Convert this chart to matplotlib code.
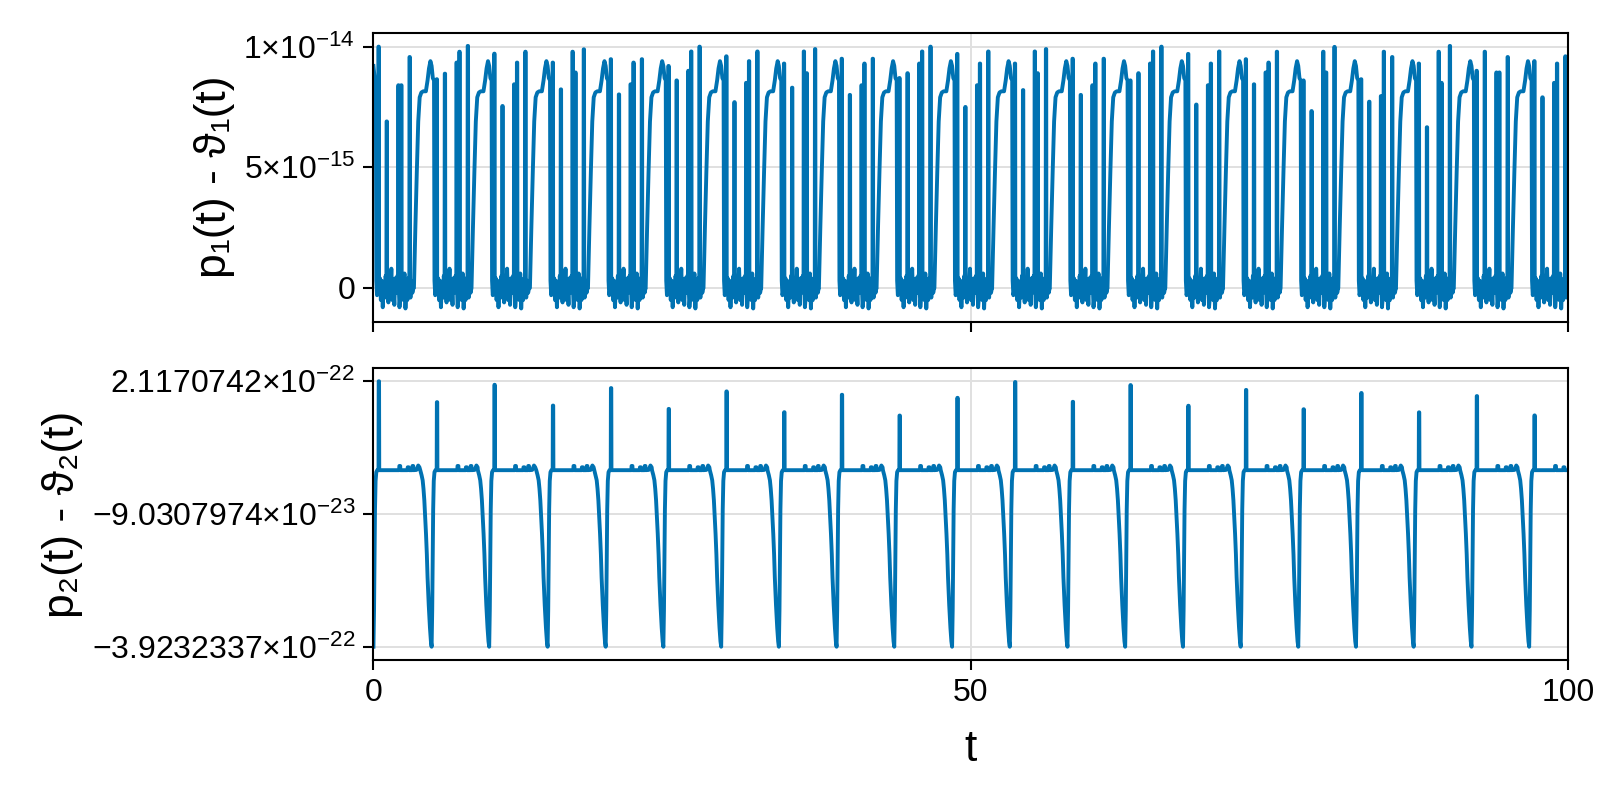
import matplotlib
matplotlib.use("Agg")
import matplotlib.pyplot as plt

# times of the dips in p2 - theta2 (start of each cycle)
starts = [0.0, 4.87, 9.69, 14.58, 19.44, 24.27, 29.11, 33.94, 38.77, 43.60,
          48.44, 53.27, 58.10, 62.93, 67.77, 72.60, 77.42, 82.25, 87.08, 91.92,
          96.75]

# ---- p1 - theta1, one cycle (units 1e-15) ----
# part after the dip (tau from cycle start)
top_after_tau = [0.00, 0.10, 0.20, 0.24, 0.30, 0.55, 0.62, 0.70, 0.78, 0.86,
                 0.95, 1.02, 1.25, 1.32, 1.40, 1.50, 1.58, 1.66, 1.75, 1.82,
                 1.90, 2.00, 2.18, 2.45, 2.52, 2.60, 2.68, 2.76, 2.84, 2.92,
                 3.10, 3.18, 3.26, 3.34]
top_after_val = [9.2, 8.7, 8.6, 0.3, -0.3, 0.4, -0.5, 0.3, -0.8, 0.2,
                 -0.4, 0.5, -0.6, 0.3, -0.3, 0.8, -0.5, 0.2, -0.7, 0.4,
                 -0.2, 0.5, -0.8, 0.3, -0.5, 0.6, -0.85, 0.1, -0.5, 0.4,
                 -0.4, 0.3, -0.2, 0.0]
# part before the next dip (tau relative to next cycle start)
top_before_tau = [-1.48, -1.36, -1.24, -1.12, -1.00, -0.86, -0.70, -0.48, -0.34, -0.22, -0.10]
top_before_val = [0.0, 2.5, 4.8, 6.9, 7.9, 8.1, 8.15, 8.15, 8.6, 9.1, 9.4]
# thin spikes in the flat part of each cycle
top_spike_tau = [0.42, 1.10, 2.08, 2.32, 3.02]
top_spikes = [
    [10.0, 6.9, 8.4, 8.4, 9.57],
    [8.65, 8.88, 9.34, 9.79, 10.03],
    [9.71, 7.54, 8.44, 9.34, 9.79],
    [9.34, 8.23, 9.79, 8.93, 9.89],
    [9.48, 8.02, 8.44, 9.34, 9.48],
    [9.2, 8.6, 9.0, 9.8, 10.0],
    [9.6, 7.7, 8.5, 9.4, 9.8],
    [9.3, 8.3, 9.8, 8.9, 9.9],
    [9.5, 8.0, 8.4, 9.3, 9.5],
    [8.7, 8.9, 9.3, 9.8, 10.0],
    [9.7, 7.5, 8.4, 9.3, 9.8],
    [9.3, 8.2, 9.8, 8.9, 9.9],
    [9.5, 8.0, 8.4, 9.3, 9.5],
    [8.6, 8.9, 9.3, 9.8, 10.0],
    [9.7, 7.6, 8.4, 9.3, 9.8],
    [9.48, 8.44, 8.93, 9.34, 9.79],
    [8.6, 7.33, 9.79, 8.93, 9.99],
    [8.65, 7.72, 7.95, 9.79, 9.57],
    [9.3, 6.66, 9.79, 8.5, 10.03],
    [9.0, 9.79, 8.93, 8.93, 9.57],
    [9.4, 7.9, 8.5, 9.3, 9.6],
]

# ---- p2 - theta2, one cycle (units 1e-22) ----
bot_after_tau = [0.00, 0.05, 0.09, 0.13, 0.18, 0.24, 0.32, 0.60, 2.15, 2.17,
                 2.24, 2.26, 2.85, 2.87, 2.95, 2.97, 3.25, 3.27, 3.33, 3.35,
                 3.60, 3.75, 3.85]
bot_after_val = [-3.9232337, -3.1, -2.0, -0.8, -0.15, 0.05, 0.094, 0.094, 0.094, 0.19,
                 0.19, 0.094, 0.094, 0.16, 0.16, 0.094, 0.094, 0.19, 0.19, 0.094,
                 0.10, 0.20, 0.16]
bot_before_tau = [-0.95, -0.84, -0.75, -0.68, -0.61, -0.54, -0.47, -0.40, -0.34, -0.24, -0.14, -0.06]
bot_before_val = [0.094, -0.02, -0.135, -0.33, -0.592, -0.95, -1.354, -1.82, -2.345, -2.98, -3.488, -3.8]
bot_spike_tau = [0.44]
bot_spikes = [[2.1170742], [1.642], [2.037], [1.564], [1.962], [1.488], [1.886],
              [1.413], [1.81], [1.337], [1.74], [2.10], [1.65], [2.03], [1.56],
              [1.92], [1.48], [1.85], [1.41], [1.78], [1.34]]

top_ticks = [0, 5e-15, 1e-14]
top_ticklabels = ['0', r'$5{\times}10^{-15}$', r'$1{\times}10^{-14}$']
bot_ticks = [-3.9232337e-22, -9.0307974e-23, 2.1170742e-22]
bot_ticklabels = [r'$-3.9232337{\times}10^{-22}$', r'$-9.0307974{\times}10^{-23}$',
                  r'$2.1170742{\times}10^{-22}$']
x_ticks = [0, 50, 100]


def build(after_tau, after_val, before_tau, before_val, sp_tau, sp_h, base, scale):
    pts = []
    for k, s in enumerate(starts):
        pts += [(s + a, b) for a, b in zip(after_tau, after_val)]
        for st, h in zip(sp_tau, sp_h[k]):
            pts += [(s + st - 0.015, base), (s + st, h), (s + st + 0.03, h), (s + st + 0.045, base)]
        if k + 1 < len(starts):
            nxt = starts[k + 1]
            pts += [(nxt + a, b) for a, b in zip(before_tau, before_val)]
    pts = sorted(p for p in pts if p[0] <= 100)
    return [p[0] for p in pts], [p[1] * scale for p in pts]


t1, y1 = build(top_after_tau, top_after_val, top_before_tau, top_before_val,
               top_spike_tau, top_spikes, 0.0, 1e-15)
t2, y2 = build(bot_after_tau, bot_after_val, bot_before_tau, bot_before_val,
               bot_spike_tau, bot_spikes, 0.094, 1e-22)

plt.rcParams['font.family'] = ['Liberation Sans', 'DejaVu Sans']
plt.rcParams['mathtext.fontset'] = 'custom'
plt.rcParams['mathtext.rm'] = 'Liberation Sans'
plt.rcParams['mathtext.it'] = 'Liberation Sans:italic'

color = '#0072B2'
fig = plt.figure(figsize=(16, 8), dpi=100)
ax1 = fig.add_axes([0.2334, 0.598, 0.7466, 0.361])
ax2 = fig.add_axes([0.2334, 0.175, 0.7466, 0.365])

for ax in (ax1, ax2):
    ax.set_xlim(0, 100)
    ax.set_xticks(x_ticks)
    ax.grid(True, color='#e0e0e0', lw=1.4)
    ax.set_axisbelow(True)
    for sp in ax.spines.values():
        sp.set_linewidth(1.5)
    ax.tick_params(direction='out', length=7.2, width=1.5, labelsize=23, pad=6)

ax1.plot(t1, y1, color=color, lw=2.8)
ax1.margins(x=0, y=0.05)
ax1.set_xlim(0, 100)
ax1.set_yticks(top_ticks)
ax1.set_yticklabels(top_ticklabels)
ax1.tick_params(axis='x', labelbottom=False)
ax1.set_ylabel('p₁(t) - ϑ₁(t)', fontsize=32)
ax1.yaxis.set_label_coords(-0.1327, 0.5)
ax1.yaxis.label.set_va('center')

ax2.plot(t2, y2, color=color, lw=2.8)
ax2.margins(x=0, y=0.05)
ax2.set_xlim(0, 100)
ax2.set_yticks(bot_ticks)
ax2.set_yticklabels(bot_ticklabels)
ax2.set_ylabel('p₂(t) - ϑ₂(t)', fontsize=32)
ax2.yaxis.set_label_coords(-0.26, 0.5)
ax2.yaxis.label.set_va('center')
ax2.set_xlabel('t', fontsize=32)
ax2.xaxis.set_label_coords(0.5, -0.308)
ax2.xaxis.label.set_va('center')

fig.savefig('out.png', dpi=100)
